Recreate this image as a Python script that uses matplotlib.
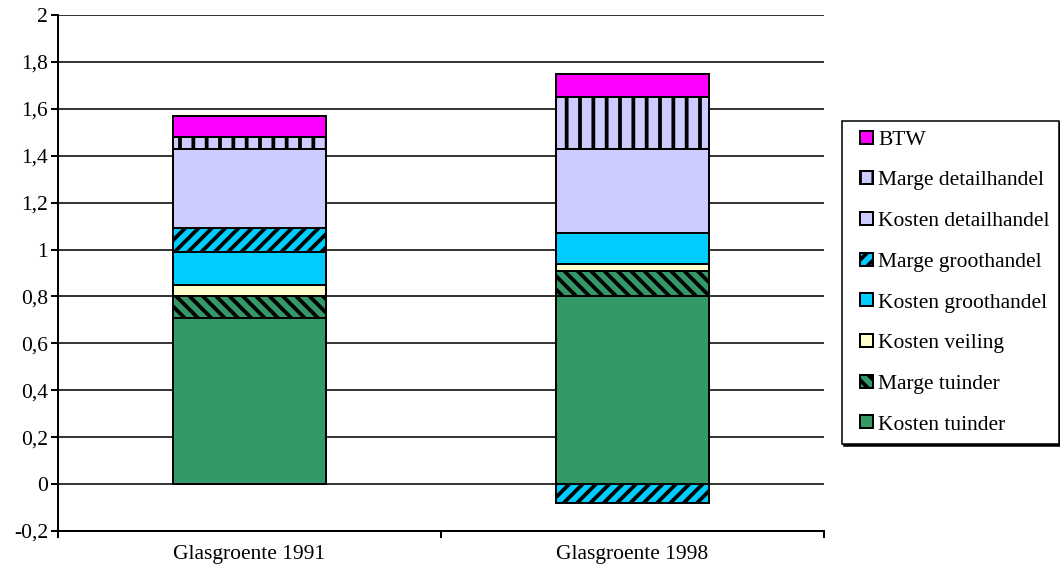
import matplotlib
matplotlib.use('Agg')
import matplotlib.pyplot as plt
import numpy as np
from matplotlib.ticker import FuncFormatter, FixedLocator
from matplotlib.patches import Rectangle
from matplotlib.container import BarContainer
from matplotlib.legend_handler import HandlerPatch, update_from_first_child

categories = ['Glasgroente 1991', 'Glasgroente 1998']
series_names = ['Kosten tuinder', 'Marge tuinder', 'Kosten veiling',
                'Kosten groothandel', 'Marge groothandel',
                'Kosten detailhandel', 'Marge detailhandel', 'BTW']
kosten_tuinder = [0.71, 0.80]
marge_tuinder = [0.09, 0.11]
kosten_veiling = [0.05, 0.03]
kosten_groothandel = [0.14, 0.13]
marge_groothandel = [0.10, -0.08]
kosten_detailhandel = [0.34, 0.36]
marge_detailhandel = [0.05, 0.22]
btw = [0.09, 0.10]
y_ticks = [-0.2, 0, 0.2, 0.4, 0.6, 0.8, 1.0, 1.2, 1.4, 1.6, 1.8, 2.0]

series_values = [kosten_tuinder, marge_tuinder, kosten_veiling, kosten_groothandel,
                 marge_groothandel, kosten_detailhandel, marge_detailhandel, btw]
colors = ['#339966', '#339966', '#FFFFCC', '#00CCFF', '#00CCFF',
          '#CCCCFF', '#CCCCFF', '#FF00FF']
hatches = [None, '\\\\', None, None, '//', None, '|', None]

plt.rcParams['font.family'] = ['Liberation Serif', 'DejaVu Serif']
plt.rcParams['hatch.linewidth'] = 3.4
plt.rcParams['hatch.color'] = 'black'

DPI = 80
FS = 19.4
fig = plt.figure(figsize=(1060 / DPI, 581 / DPI), dpi=DPI)
ax = fig.add_axes([58 / 1060, 50 / 581, (824 - 58) / 1060, (531 - 15) / 581])

x = np.arange(len(categories))
pos = np.zeros(len(categories))
neg = np.zeros(len(categories))
handles = []
for name, vals, color, hatch in zip(series_names, series_values, colors, hatches):
    v = np.array(vals, dtype=float)
    bottoms = np.where(v >= 0, pos, neg)
    b = ax.bar(x, v, width=0.4, bottom=bottoms, color=color, edgecolor='black',
               linewidth=1.8, hatch=hatch, zorder=3, label=name)
    handles.append(b)
    pos += np.where(v >= 0, v, 0)
    neg += np.where(v < 0, v, 0)

ax.set_xlim(-0.5, 1.5)
ax.set_ylim(-0.2, 2.0)
ax.yaxis.set_major_locator(FixedLocator(y_ticks))
ax.yaxis.set_major_formatter(FuncFormatter(
    lambda v, p: f"{v:.1f}".rstrip('0').rstrip('.').replace('.', ',') if abs(v) > 1e-9 else '0'))
ax.yaxis.grid(True, color='black', linewidth=1.4)
ax.set_axisbelow(True)

for s in ['top', 'right']:
    ax.spines[s].set_visible(False)
for s in ['left', 'bottom']:
    ax.spines[s].set_linewidth(1.8)

ax.tick_params(axis='y', direction='out', length=6, width=1.8, labelsize=FS, pad=3)
ax.xaxis.set_major_locator(FixedLocator([-0.5, 0.5, 1.5]))
ax.xaxis.set_minor_locator(FixedLocator(list(x)))
ax.set_xticklabels([], minor=False)
ax.set_xticklabels(categories, minor=True)
ax.tick_params(axis='x', which='major', direction='out', length=6, width=1.8)
ax.tick_params(axis='x', which='minor', length=0, labelsize=FS, pad=13)


def square_right(legend, orig_handle, xdescent, ydescent, width, height, fontsize):
    return Rectangle((-xdescent + width - height, -ydescent), height, height)


handler = HandlerPatch(patch_func=square_right, update_func=update_from_first_child)

leg = fig.legend(handles[::-1], series_names[::-1], loc='upper left',
                 bbox_to_anchor=(842 / 1060, 1 - 121 / 581), bbox_transform=fig.transFigure,
                 borderaxespad=0, frameon=True, fancybox=False, edgecolor='black',
                 framealpha=1, handlelength=1.0, handleheight=0.55, handletextpad=0.22,
                 labelspacing=1.0, borderpad=0.45, fontsize=FS,
                 handler_map={BarContainer: handler},
                 shadow={'color': 'black', 'alpha': 1, 'ox': 1.5, 'oy': -1.5})
leg.get_frame().set_linewidth(1.4)

fig.savefig('out.png', dpi=DPI)
